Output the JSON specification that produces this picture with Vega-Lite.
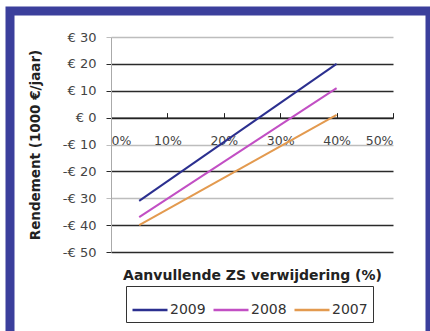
{
  "$schema": "https://vega.github.io/schema/vega-lite/v6.json",
  "width": 420,
  "height": 330,
  "autosize": {"type": "none"},
  "padding": {"left": 10, "top": 11, "right": 0, "bottom": -10},
  "background": "white",
  "config": {
    "font": "DejaVu Sans",
    "view": {"fill": "white", "stroke": "#3b3f9c", "strokeWidth": 9}
  },
  "data": {
    "values": [
      {"jaar": "2009", "zs": 0.05, "rendement": -31},
      {"jaar": "2009", "zs": 0.40, "rendement": 20},
      {"jaar": "2008", "zs": 0.05, "rendement": -37},
      {"jaar": "2008", "zs": 0.40, "rendement": 11},
      {"jaar": "2007", "zs": 0.05, "rendement": -40},
      {"jaar": "2007", "zs": 0.40, "rendement": 1}
    ]
  },
  "mark": {"type": "line", "strokeWidth": 2},
  "encoding": {
    "x": {
      "field": "zs",
      "type": "quantitative",
      "scale": {"domain": [0, 0.5], "range": [101, 383], "nice": false, "zero": false},
      "axis": {
        "title": "Aanvullende ZS verwijdering (%)",
        "values": [0, 0.1, 0.2, 0.3, 0.4, 0.5],
        "format": ".0%",
        "grid": false,
        "offset": {"expr": "scale('y', 0) - height"},
        "domainColor": "#222",
        "domainWidth": 1.5,
        "tickColor": "#222",
        "tickSize": -5,
        "labelFont": "DejaVu Sans",
        "labelFontSize": 12.5,
        "labelColor": "#444",
        "labelPadding": 22,
        "titleFont": "DejaVu Sans",
        "titleFontSize": 14,
        "titleFontWeight": "bold",
        "titleColor": "#222",
        "titleY": 151
      }
    },
    "y": {
      "field": "rendement",
      "type": "quantitative",
      "scale": {"domain": [-50, 30], "range": [241, 26], "nice": false, "zero": false},
      "axis": {
        "title": "Rendement (1000 €/jaar)",
        "values": [-50, -40, -30, -20, -10, 0, 10, 20, 30],
        "labelExpr": "datum.value < 0 ? '-€ ' + abs(datum.value) : '€ ' + datum.value",
        "offset": {"expr": "-scale('x', 0)"},
        "grid": true,
        "gridColor": {"condition": {"test": "datum.value == 30 || datum.value == -10 || datum.value == -30", "value": "#bdbdbd"}, "value": "#2a2a2a"},
        "gridWidth": 1.3,
        "tickColor": {"condition": {"test": "datum.value == 30 || datum.value == -10 || datum.value == -30", "value": "#bdbdbd"}, "value": "#2a2a2a"},
        "tickSize": 5,
        "domainColor": "#aaaaaa",
        "labelFont": "DejaVu Sans",
        "labelFontSize": 13,
        "labelColor": "#444",
        "labelPadding": 10,
        "titleFont": "DejaVu Sans",
        "titleFontSize": 13.5,
        "titleFontWeight": "bold",
        "titleColor": "#222",
        "titleX": -69
      }
    },
    "color": {
      "field": "jaar",
      "type": "nominal",
      "scale": {"domain": ["2009", "2008", "2007"], "range": ["#2b2f8f", "#c24fc4", "#e39a4f"]},
      "legend": {
        "title": null,
        "orient": "none",
        "legendX": 116,
        "legendY": 275,
        "direction": "horizontal",
        "symbolType": "stroke",
        "symbolSize": 1225,
        "symbolStrokeWidth": 2.5,
        "labelFont": "DejaVu Sans",
        "labelFontSize": 14,
        "labelColor": "#333",
        "labelOffset": 1,
        "columnPadding": 2,
        "padding": 5,
        "strokeColor": "#333",
        "fillColor": "white"
      }
    }
  }
}
